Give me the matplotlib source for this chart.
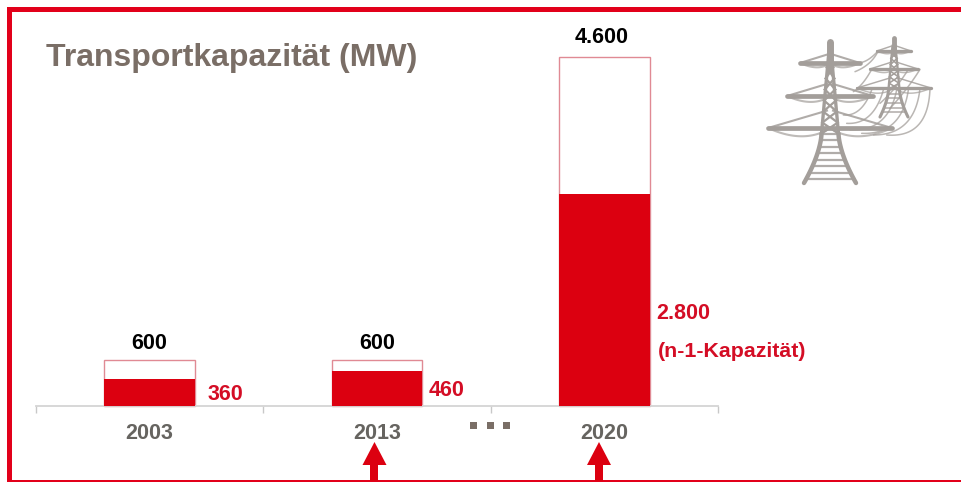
import matplotlib
matplotlib.use('Agg')
import matplotlib.pyplot as plt
import numpy as np
from matplotlib.patches import Polygon, Rectangle

plt.rcParams['font.family'] = ['Liberation Sans', 'DejaVu Sans']
plt.rcParams['font.weight'] = 'bold'

years = ['2003', '2013', '2020']
total_mw = [600, 600, 4600]
n1_mw = [360, 460, 2800]

RED = '#dc0010'
LABEL_RED = '#d40d25'
BORDER_RED = '#e2001a'
TITLE_GREY = '#7a6e66'
YEAR_GREY = '#666460'
TOWER_GREY = '#a39e9a'
W, H = 962, 482


def fmt(v):
    return f'{v:,}'.replace(',', '.')


def curve(ax, p0, ctrl, p1, lw=1.0, alpha=0.75):
    t = np.linspace(0, 1, 30)[:, None]
    pts = (1 - t) ** 2 * np.array(p0) + 2 * t * (1 - t) * np.array(ctrl) + t ** 2 * np.array(p1)
    ax.plot(pts[:, 0], pts[:, 1], color=TOWER_GREY, lw=lw, alpha=alpha, solid_capstyle='round')


def draw_tower(ax, cx, top, bottom, half_foot, half_waist, arms, lw=1.0):
    # arms: (y, half width) from top to bottom
    height = bottom - top
    waist = bottom - height * 0.35
    ax.plot([cx, cx], [top, top + height * 0.2], color=TOWER_GREY, lw=5 * lw, solid_capstyle='round')
    for side in (-1, 1):
        ax.plot([cx + side * 1.5, cx + side * half_waist], [top + height * 0.1, waist],
                color=TOWER_GREY, lw=2.4 * lw)
        t = np.linspace(0, 1, 20)
        ax.plot(cx + side * (half_waist + (half_foot - half_waist) * t ** 1.6), waist + (bottom - waist) * t,
                color=TOWER_GREY, lw=3.2 * lw, solid_capstyle='round')
    # rungs in the lower part
    for y in np.arange(waist, bottom - 1, 6.5 * max(lw, 0.6)):
        frac = (y - waist) / (bottom - waist)
        w = half_waist + (half_foot - half_waist) * frac ** 1.6
        ax.plot([cx - w, cx + w], [y, y], color=TOWER_GREY, lw=1.6 * lw, alpha=0.85)
    # crossing struts in the upper part
    ys = np.linspace(top + height * 0.18, waist, 7)
    for y0, y1 in zip(ys[:-1], ys[1:]):
        w0 = 1.5 + (half_waist - 1.5) * (y0 - top) / (waist - top)
        w1 = 1.5 + (half_waist - 1.5) * (y1 - top) / (waist - top)
        ax.plot([cx - w0, cx + w1], [y0, y1], color=TOWER_GREY, lw=1.6 * lw)
        ax.plot([cx + w0, cx - w1], [y0, y1], color=TOWER_GREY, lw=1.6 * lw)
    for y, hw in arms:
        ax.plot([cx - hw, cx + hw], [y, y], color=TOWER_GREY, lw=3.4 * lw, solid_capstyle='round')
        for side in (-1, 1):
            ax.plot([cx + side * hw, cx + side * 3], [y, y - hw * 0.28], color=TOWER_GREY,
                    lw=1.5 * lw, alpha=0.85)
            curve(ax, (cx + side * hw, y), (cx + side * hw * 0.45, y + hw * 0.25), (cx + side * 3, y + 2),
                  lw=1.5 * lw, alpha=0.7)


def z(px, py):
    # icon sketch coordinates, 3x scale from corner (740, 20)
    return 740 + px / 3, 20 + py / 3


fig = plt.figure(figsize=(W / 100, H / 100), dpi=100, facecolor='white')

# chart axes: x 36..718 px, baseline y=406, 4600 MW at y=57
ax = fig.add_axes([36 / W, 1 - 406 / H, (718 - 36) / W, (406 - 57) / H])
ax.patch.set_alpha(0)
x = np.arange(len(years))
bar_w = 0.4
ax.bar(x, total_mw, width=bar_w, facecolor='white', edgecolor='#e08a94', linewidth=1.0,
       clip_on=False, zorder=2)
ax.bar(x, n1_mw, width=bar_w, color=RED, linewidth=0, zorder=3)
ax.set_xlim(-0.5, 2.5)
ax.set_ylim(0, 4600)
for s in ('top', 'left', 'right'):
    ax.spines[s].set_visible(False)
ax.spines['bottom'].set_color('#d4d4d4')
ax.spines['bottom'].set_linewidth(1.3)
ax.set_yticks([])
ax.set_xticks(x)
ax.set_xticklabels(years, fontsize=15.5, fontweight='bold', color=YEAR_GREY)
ax.tick_params(axis='x', which='major', length=0, pad=12.5)
ax.set_xticks(np.arange(-0.5, 3), minor=True)
ax.tick_params(axis='x', which='minor', length=5, width=1, color='#c8c8c8')

# value labels
total_off = [(0, 17), (0, 17), (-3, 19)]
for i, v in enumerate(total_mw):
    ax.annotate(fmt(v), xy=(x[i], v), xytext=total_off[i], textcoords='offset pixels',
                ha='center', va='center', fontsize=15.5, color='black')
n1_offsets = [(12, -16), (6, -19), (6, -120)]
for i, v in enumerate(n1_mw):
    ax.annotate(fmt(v), xy=(x[i] + bar_w / 2, v), xytext=n1_offsets[i], textcoords='offset pixels',
                ha='left', va='center', fontsize=15.5, color=LABEL_RED, annotation_clip=False)
ax.annotate('(n-1-Kapazität)', xy=(x[2] + bar_w / 2, n1_mw[2]), xytext=(8, -158),
            textcoords='offset pixels', ha='left', va='center', fontsize=15.4, color=LABEL_RED)

# overlay in image pixels for frame, arrows, icon
ov = fig.add_axes([0, 0, 1, 1])
ov.set_xlim(0, W)
ov.set_ylim(H, 0)
ov.axis('off')
ov.patch.set_alpha(0)

ov.text(46, 58, 'Transportkapazität (MW)', fontsize=23, color=TITLE_GREY, ha='left', va='center')

# frame
ov.add_patch(Rectangle((7, 7), W - 7, 5, color=BORDER_RED, lw=0))
ov.add_patch(Rectangle((7, 7), 5, H - 7, color=BORDER_RED, lw=0))
ov.add_patch(Rectangle((7, 480), W - 7, 2, color=BORDER_RED, lw=0))

# arrows below 2013 / 2020
for cx in (374.5, 599):
    ov.add_patch(Polygon([(cx, 442), (cx + 12, 465), (cx - 12, 465)], color=RED, lw=0))
    ov.add_patch(Rectangle((cx - 4, 465), 8, 16, color=RED, lw=0))

# dots between 2013 and 2020
for dx in (470, 487, 503):
    ov.add_patch(Rectangle((dx, 422), 7, 7, color=TITLE_GREY, lw=0))

# wires first, towers on top
wires = [((570, 205), (565, 355), (440, 345)), ((540, 205), (525, 345), (400, 345)),
         ((505, 210), (485, 345), (365, 340)), ((470, 210), (445, 335), (330, 330)),
         ((430, 210), (400, 315), (320, 310)), ((395, 210), (365, 290), (310, 285)),
         ((540, 148), (505, 205), (450, 265)), ((505, 148), (470, 205), (420, 250)),
         ((395, 148), (370, 195), (340, 215)), ((415, 92), (395, 135), (345, 155)),
         ((360, 128), (385, 125), (415, 92))]
for p0, ctrl, p1 in wires:
    curve(ov, z(*p0), z(*ctrl), z(*p1), lw=1.1)

# small tower behind, big tower in front
draw_tower(ov, 894, 38, 117, 14, 5.5, [(51, 17), (69, 24), (88, 37)], lw=0.7)
draw_tower(ov, 830, 42, 183, 26, 8.5, [(63, 30), (96, 43), (128, 62)])

fig.savefig('out.png', dpi=100)
